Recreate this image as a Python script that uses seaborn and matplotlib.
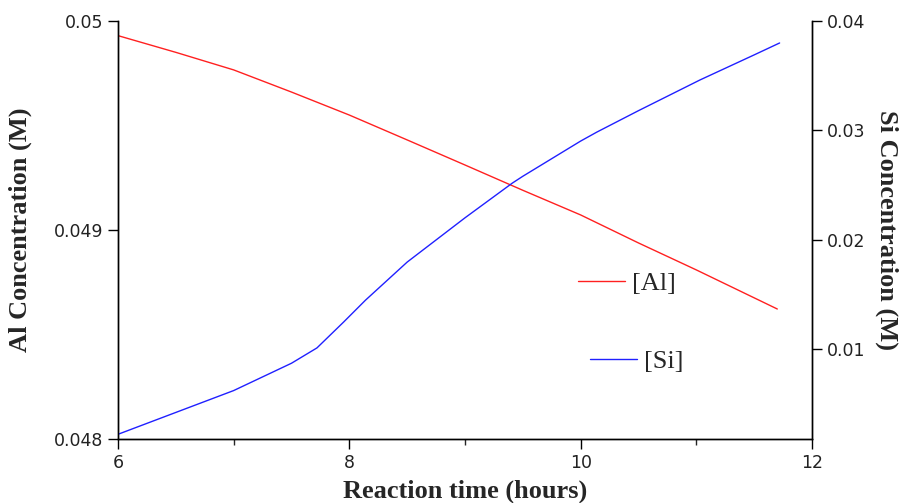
import numpy as np
import pandas as pd
import matplotlib
matplotlib.use("Agg")
import matplotlib.pyplot as plt
import seaborn as sns

# Data
time_al = [6.0, 6.5, 7.0, 7.5, 8.0, 8.5, 9.0, 9.5, 10.0, 10.5, 11.0, 11.7]
al_conc = [0.04993, 0.04985, 0.049766, 0.04966, 0.04955, 0.049431, 0.049311,
           0.04919, 0.049072, 0.048938, 0.048809, 0.048622]

time_si = [6.0, 6.5, 7.0, 7.5, 7.72, 7.95, 8.14, 8.5, 9.0, 9.41, 9.5, 10.0,
           10.14, 10.5, 11.03, 11.5, 11.72]
si_conc = [0.0022, 0.0042, 0.0062, 0.0087, 0.0101, 0.01246, 0.01447, 0.01795,
           0.0220, 0.02518, 0.0258, 0.02902, 0.02984, 0.0318, 0.0346, 0.0369,
           0.03799]

x_ticks = [6, 8, 10, 12]
x_minor = [7, 9, 11]
al_ticks = [0.048, 0.049, 0.05]
al_labels = ["0.048", "0.049", "0.05"]
si_ticks = [0.01, 0.02, 0.03, 0.04]
si_labels = ["0.01", "0.02", "0.03", "0.04"]

df_al = pd.DataFrame({"t": time_al, "c": al_conc})
df_si = pd.DataFrame({"t": time_si, "c": si_conc})

sns.set_style("ticks")
plt.rcParams["font.family"] = ["DejaVu Sans"]

fig = plt.figure(figsize=(9.08, 5.03), dpi=100)
ax = fig.add_axes([118 / 908, 1 - 439 / 503, (812 - 118) / 908, (439 - 21) / 503])
ax2 = ax.twinx()

sns.lineplot(data=df_al, x="t", y="c", ax=ax, color="#ff2020", linewidth=1.0,
             label="[Al]", legend=False)
sns.lineplot(data=df_si, x="t", y="c", ax=ax2, color="#2020ff", linewidth=1.0,
             label="[Si]", legend=False)

ax.set_xlim(6, 12)
ax.set_ylim(0.048, 0.05)
ax2.set_ylim(0.00177, 0.04)

ax.set_xticks(x_ticks)
ax.set_xticks(x_minor, minor=True)
ax.set_xticklabels([str(v) for v in x_ticks])
ax.set_yticks(al_ticks)
ax.set_yticklabels(al_labels)
ax2.set_yticks(si_ticks)
ax2.set_yticklabels(si_labels)

for a in (ax, ax2):
    a.spines["top"].set_visible(False)
    for s in a.spines.values():
        s.set_linewidth(1.0)
        s.set_color("black")
    a.tick_params(axis="both", which="major", length=7, width=1.0,
                  labelsize=12.5, labelcolor="#222222", colors="black",
                  direction="out")
    a.tick_params(axis="x", which="minor", length=4, width=1.0, direction="out")
ax2.spines["right"].set_visible(True)

lab_font = dict(family="Liberation Serif", weight="bold", size=19)
ax.set_xlabel("Reaction time (hours)", labelpad=6, **lab_font)
ax.set_ylabel("Al Concentration (M)", labelpad=16, **lab_font)
ax2.set_ylabel("Si Concentration (M)", rotation=270, labelpad=24, **lab_font)

leg_font = {"family": "Liberation Serif", "size": 19}
h1, l1 = ax.get_legend_handles_labels()
h2, l2 = ax2.get_legend_handles_labels()
leg1 = fig.legend(h1, l1, loc="center left", bbox_to_anchor=(554 / 908, 1 - 283 / 503),
                  frameon=False, prop=leg_font, handlelength=1.78, handletextpad=0.27)
leg2 = fig.legend(h2, l2, loc="center left", bbox_to_anchor=(566 / 908, 1 - 361 / 503),
                  frameon=False, prop=leg_font, handlelength=1.78, handletextpad=0.27)

fig.savefig("out.png", dpi=100)
